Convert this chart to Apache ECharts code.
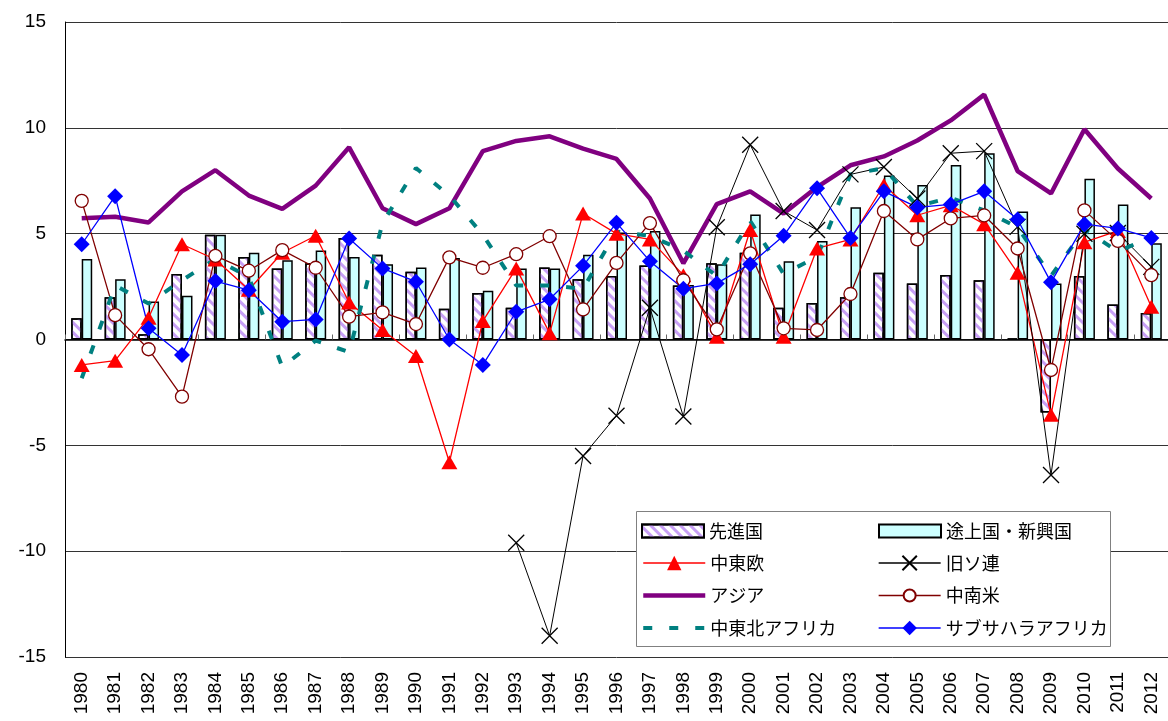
<!DOCTYPE html>
<html lang="ja">
<head>
<meta charset="utf-8">
<title>地域別実質GDP成長率</title>
<script src="https://cdn.jsdelivr.net/npm/echarts@6/dist/echarts.min.js"></script>
<style>
  html, body { margin: 0; padding: 0; background: #fff; }
  #chart { width: 1168px; height: 721px; }
</style>
</head>
<body>
<div id="chart"></div>
<script>
// 年（カテゴリ）
const years = ['1980','1981','1982','1983','1984','1985','1986','1987','1988','1989',
  '1990','1991','1992','1993','1994','1995','1996','1997','1998','1999',
  '2000','2001','2002','2003','2004','2005','2006','2007','2008','2009',
  '2010','2011','2012'];

// 縦軸目盛
const yTicks = { min: -15, max: 15, step: 5 };

// 実質GDP成長率（%）
const advanced = [1.0, 2.0, 0.25, 3.1, 4.95, 3.9, 3.35, 3.6, 4.8, 4.0,
  3.2, 1.45, 2.2, 1.5, 3.4, 2.85, 3.0, 3.5, 2.55, 3.6,
  4.1, 1.5, 1.73, 2.0, 3.15, 2.65, 3.05, 2.8, 0.05, -3.45,
  3.0, 1.65, 1.25];
const emerging = [3.8, 2.85, 1.8, 2.07, 4.95, 4.1, 3.75, 4.2, 3.9, 3.55,
  3.4, 3.85, 2.3, 3.35, 3.35, 4.0, 5.05, 5.13, 2.57, 3.55,
  5.9, 3.7, 4.65, 6.25, 7.75, 7.3, 8.25, 8.8, 6.05, 2.65,
  7.6, 6.38, 4.55];
const centralEastEurope = [-1.2, -1.0, 1.03, 4.5, 3.78, 2.35, 4.1, 4.9, 1.75, 0.45,
  -0.78, -5.8, 0.87, 3.36, 0.3, 5.95, 5.0, 4.73, 3.04, 0.13,
  5.17, 0.13, 4.3, 4.73, 7.3, 5.87, 6.34, 5.45, 3.15, -3.56,
  4.6, 5.13, 1.55];
const formerSoviet = [null, null, null, null, null, null, null, null, null, null,
  null, null, null, -9.6, -14.0, -5.5, -3.6, 1.5, -3.64, 5.3,
  9.2, 6.07, 5.17, 7.8, 8.15, 6.66, 8.8, 8.9, 5.32, -6.4,
  5.0, 5.03, 3.43];
const asia = [5.73, 5.8, 5.53, 7.0, 8.0, 6.8, 6.17, 7.27, 9.08, 6.2,
  5.45, 6.2, 8.9, 9.38, 9.6, 9.02, 8.53, 6.66, 3.6, 6.4,
  7.0, 5.95, 7.2, 8.23, 8.65, 9.4, 10.35, 11.57, 7.96, 6.9,
  9.93, 8.08, 6.66];
const latinAmerica = [6.55, 1.15, -0.46, -2.7, 3.95, 3.25, 4.22, 3.39, 1.08, 1.28,
  0.73, 3.88, 3.39, 4.03, 4.88, 1.42, 3.62, 5.5, 2.8, 0.48,
  4.07, 0.53, 0.45, 2.15, 6.07, 4.73, 5.72, 5.86, 4.3, -1.44,
  6.1, 4.66, 3.04];
const middleEastNorthAfrica = [-1.83, 2.55, 1.7, 2.8, 3.8, 2.95, -1.3, -0.05, -0.6, 5.5,
  8.1, 6.8, 4.95, 2.55, 2.55, 2.4, 5.1, 4.9, 4.2, 3.0,
  5.6, 3.1, 3.9, 7.8, 8.1, 6.3, 6.7, 6.1, 5.3, 3.0,
  5.2, 4.15, 4.85];
const subSaharanAfrica = [4.5, 6.77, 0.53, -0.73, 2.76, 2.33, 0.84, 0.95, 4.77, 3.36,
  2.73, 0.0, -1.2, 1.31, 1.9, 3.48, 5.51, 3.7, 2.4, 2.65,
  3.56, 4.9, 7.14, 4.8, 7.0, 6.24, 6.38, 7.0, 5.67, 2.7,
  5.45, 5.25, 4.8];

const names = ['先進国', '途上国・新興国', '中東欧', '旧ソ連', 'アジア', '中南米', '中東北アフリカ', 'サブサハラアフリカ'];

const numFont = '"Liberation Sans", Arial, sans-serif';
const jpFont = '"Noto Sans CJK JP", sans-serif';

const chart = echarts.init(document.getElementById('chart'), null, { renderer: 'canvas' });

const lineBase = { type: 'line', xAxisIndex: 0, yAxisIndex: 0, connectNulls: false, animation: false };

// 凡例: 2列 × 4行（1行目は棒、2〜4行目は折れ線）
const legendText = { fontSize: 18, fontFamily: jpFont, color: '#000', lineHeight: 20 };
function legendBlock(data, left, top, itemHeight) {
  return {
    data: data, orient: 'vertical', left: left, top: top, z: 20, padding: 0,
    itemWidth: 62, itemHeight: itemHeight, itemGap: 12.5,
    selectedMode: false, textStyle: legendText
  };
}
const thin = { width: 1.3 };

chart.setOption({
  animation: false,
  backgroundColor: '#fff',
  grid: { left: 65, right: -11, top: 22, bottom: 64, containLabel: false },
  xAxis: [
    {
      type: 'category', data: years, position: 'bottom',
      axisLine: { show: false, onZero: false },
      axisTick: { show: false },
      axisLabel: { interval: 0, rotate: 90, margin: 15, fontSize: 19, color: '#000', fontFamily: numFont },
      splitLine: { show: false }
    },
    {
      type: 'category', data: years, position: 'bottom',
      axisLine: { show: true, onZero: true, lineStyle: { color: '#000', width: 1.5 } },
      axisTick: { show: true, inside: true, length: 5, lineStyle: { color: '#666', width: 1 } },
      axisLabel: { show: false },
      splitLine: { show: false }
    }
  ],
  yAxis: {
    type: 'value', min: yTicks.min, max: yTicks.max, interval: yTicks.step,
    axisLine: { show: true, lineStyle: { color: '#000', width: 1 } },
    axisTick: { show: false },
    axisLabel: { fontSize: 19, color: '#000', margin: 19, fontFamily: numFont },
    splitLine: { show: true, lineStyle: { color: '#333', width: 1 } }
  },
  legend: [
    legendBlock([{ name: names[0], icon: 'rect' }], 641, 521, 13),
    legendBlock([{ name: names[1], icon: 'rect' }], 878, 521, 13),
    legendBlock([
      { name: names[2], lineStyle: thin },
      { name: names[4], lineStyle: { width: 4.5 } },
      { name: names[6], lineStyle: { width: 4, type: [9, 17] } }
    ], 641, 553, 18),
    legendBlock([{ name: names[3], lineStyle: thin }], 878, 553, 18),
    legendBlock([{ name: names[5], lineStyle: thin }], 878, 585.5, 15),
    legendBlock([{ name: names[7], lineStyle: thin }], 878, 618, 18)
  ],
  graphic: [
    {
      type: 'rect', left: 636, top: 511, z: 10,
      shape: { width: 474, height: 135 },
      style: { fill: '#fff', stroke: '#808080', lineWidth: 1 }
    }
  ],
  series: [
    {
      name: names[0], type: 'bar', data: advanced, barWidth: 10.5, barGap: '0%',
      itemStyle: {
        color: '#fff', borderColor: '#000', borderWidth: 1.5,
        decal: { symbol: 'rect', symbolSize: 1, color: '#c79ff5', dashArrayX: [1, 0], dashArrayY: [3, 4], rotation: Math.PI / 4 }
      }
    },
    {
      name: names[1], type: 'bar', data: emerging, barWidth: 10.5, barGap: '0%',
      itemStyle: { color: '#ccffff', borderColor: '#000', borderWidth: 1.5 }
    },
    Object.assign({}, lineBase, {
      name: names[2], data: centralEastEurope,
      symbol: 'triangle', symbolSize: [16, 14],
      lineStyle: { color: '#ff0000', width: 1.3 },
      itemStyle: { color: '#ff0000' }
    }),
    Object.assign({}, lineBase, {
      name: names[3], data: formerSoviet,
      symbol: 'path://M0,0L10,10M10,0L0,10', symbolSize: 16,
      lineStyle: { color: '#000', width: 1 },
      itemStyle: { color: '#000', borderColor: '#000', borderWidth: 1.3 }
    }),
    Object.assign({}, lineBase, {
      name: names[4], data: asia,
      symbol: 'circle', showSymbol: false,
      lineStyle: { color: '#800080', width: 4.5 },
      itemStyle: { color: 'rgba(0,0,0,0)', borderWidth: 0 }
    }),
    Object.assign({}, lineBase, {
      name: names[5], data: latinAmerica,
      symbol: 'circle', symbolSize: 13,
      lineStyle: { color: '#800000', width: 1.3 },
      itemStyle: { color: '#fff', borderColor: '#800000', borderWidth: 1.3 }
    }),
    Object.assign({}, lineBase, {
      name: names[6], data: middleEastNorthAfrica,
      symbol: 'circle', showSymbol: false,
      lineStyle: { color: '#008080', width: 4, type: [9, 17], cap: 'butt' },
      itemStyle: { color: 'rgba(0,0,0,0)', borderWidth: 0 }
    }),
    Object.assign({}, lineBase, {
      name: names[7], data: subSaharanAfrica,
      symbol: 'diamond', symbolSize: 16,
      lineStyle: { color: '#0000ff', width: 1.3 },
      itemStyle: { color: '#0000ff' }
    })
  ]
});
</script>
</body>
</html>
